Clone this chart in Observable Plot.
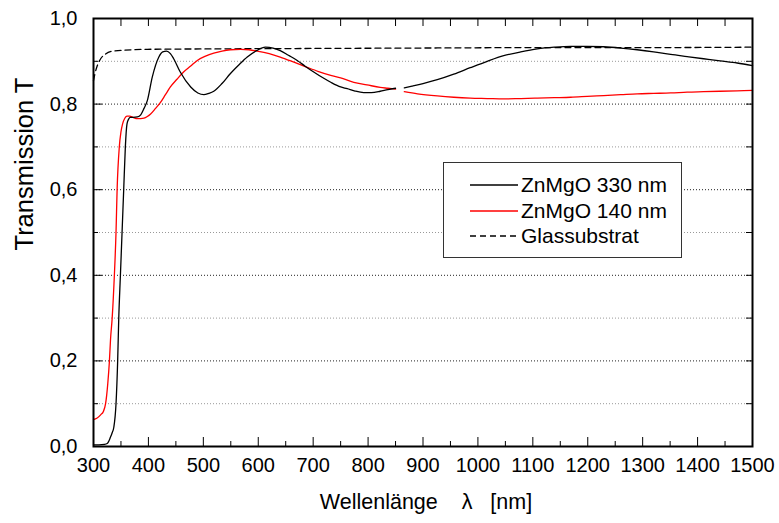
<!DOCTYPE html>
<html>
<head>
<meta charset="utf-8">
<script src="https://cdn.jsdelivr.net/npm/d3@7"></script>
<script src="https://cdn.jsdelivr.net/npm/@observablehq/plot@0.6"></script>
<style>
  html, body { margin: 0; padding: 0; background: #fff; }
  #wrap { position: relative; width: 779px; height: 523px; font-family: "Liberation Sans", Arial, sans-serif; }
  #legend { position: absolute; left: 443px; top: 162px; width: 239px; height: 96px; border: 1.5px solid #333; background: #fff; box-sizing: border-box; }
  .row { position: absolute; left: 0; height: 24px; display: flex; align-items: center; font-size: 21px; color: #000; white-space: nowrap; }
  .row svg { margin-left: 26px; margin-right: 3px; }
</style>
</head>
<body>
<div id="wrap"></div>
<script>
// Wavelengths (nm) and transmission values
const wl330 = [300,310,320,325,331,334,337,341,344,346,349,352,355,358,361,364,367,372,380,386,392,398,407,419,426,433,440,446,458,477,490,501,510,519,534,549,565,580,597,613,627,640,655,671,686,701,717,732,750,762,775,792,806,822,836,850,
               866,880,900,926,956,986,1017,1047,1078,1108,1139,1169,1199,1229,1260,1290,1320,1351,1381,1411,1441,1472,1500];
const t330  = [0.004,0.004,0.005,0.007,0.022,0.032,0.045,0.10,0.20,0.30,0.40,0.50,0.60,0.70,0.754,0.765,0.769,0.769,0.770,0.775,0.790,0.808,0.863,0.910,0.922,0.924,0.918,0.906,0.875,0.840,0.826,0.822,0.825,0.830,0.848,0.871,0.892,0.910,0.925,0.933,0.931,0.925,0.914,0.902,0.888,0.875,0.862,0.851,0.840,0.836,0.831,0.827,0.827,0.830,0.834,0.837,
               0.838,0.842,0.848,0.857,0.870,0.885,0.900,0.913,0.922,0.929,0.933,0.935,0.935,0.934,0.931,0.927,0.922,0.916,0.911,0.906,0.901,0.896,0.890];

const wl140 = [300,306,313,318,322,326,329,331,334,338,341,343,347,350,353,357,361,366,372,380,386,392,398,404,413,422,431,440,452,464,477,489,504,519,534,549,568,583,598,620,640,665,689,710,732,750,774,798,822,836,850,
               866,890,926,956,986,1017,1047,1078,1108,1139,1169,1199,1229,1260,1290,1320,1351,1381,1411,1441,1472,1500];
const t140  = [0.063,0.066,0.074,0.082,0.100,0.147,0.200,0.250,0.300,0.400,0.500,0.600,0.700,0.735,0.754,0.767,0.772,0.772,0.769,0.766,0.766,0.767,0.771,0.777,0.790,0.804,0.822,0.840,0.858,0.875,0.889,0.902,0.912,0.919,0.924,0.927,0.928,0.927,0.924,0.918,0.910,0.898,0.886,0.876,0.867,0.861,0.851,0.845,0.839,0.837,0.835,
               0.829,0.824,0.819,0.816,0.814,0.813,0.812,0.813,0.814,0.815,0.816,0.818,0.820,0.822,0.824,0.825,0.826,0.828,0.829,0.830,0.831,0.832];

const wlGlass = [300,303,307,313,322,337,398,520,700,900,1100,1300,1500];
const tGlass  = [0.855,0.873,0.890,0.906,0.917,0.924,0.928,0.929,0.930,0.931,0.932,0.932,0.933];

const detectorSwitch = 858; // measurement gap between the two detectors
const seriesNames = ["ZnMgO 330 nm", "ZnMgO 140 nm", "Glassubstrat"];
const xTitle = "Wellenlänge\u00A0\u00A0\u00A0\u00A0λ\u00A0\u00A0\u00A0[nm]";
const yTitle = "Transmission T";

const xMajor = d3.range(300, 1501, 100);
const xMinor = d3.range(350, 1500, 100);
const xAll = d3.range(300, 1501, 50);
const yMajor = [0, 0.2, 0.4, 0.6, 0.8, 1.0];
const yMinor = [0.1, 0.3, 0.5, 0.7, 0.9];
const yAll = d3.range(0, 11).map(i => i / 10);

const mk = (wl, t) => wl.map((w, i) => ({wl: w, t: t[i], seg: w < detectorSwitch ? 0 : 1}));
const d330 = mk(wl330, t330);
const d140 = mk(wl140, t140);
const dGlass = mk(wlGlass, tGlass);

const fmt = d => d.toFixed(1).replace(".", ",");

const chart = Plot.plot({
  width: 779,
  height: 523,
  marginLeft: 93,
  marginRight: 27,
  marginTop: 18,
  marginBottom: 77,
  style: {fontFamily: "'Liberation Sans', Arial, sans-serif", fontSize: "20px", background: "#fff", color: "#000", overflow: "visible"},
  x: {domain: [300, 1500]},
  y: {domain: [0, 1]},
  marks: [
    Plot.gridY(yMinor, {stroke: "#999", strokeOpacity: 1, strokeDasharray: "1,2"}),
    Plot.gridY([0.2, 0.4, 0.6, 0.8], {stroke: "#222", strokeOpacity: 1, strokeDasharray: "1,2"}),
    Plot.line(dGlass, {x: "wl", y: "t", stroke: "#000", strokeWidth: 1.3, strokeDasharray: "6,4", curve: "monotone-x"}),
    Plot.line(d140, {x: "wl", y: "t", z: "seg", stroke: "#ff0000", strokeWidth: 1.3, curve: "monotone-x"}),
    Plot.line(d330, {x: "wl", y: "t", z: "seg", stroke: "#000", strokeWidth: 1.3, curve: "monotone-x"}),
    Plot.frame({stroke: "#000", strokeWidth: 2}),
    Plot.axisX(xMajor, {anchor: "bottom", tickSize: 0, tickPadding: 11, fontSize: 20, tickFormat: d => String(d), label: null}),
    Plot.axisX(xMajor, {anchor: "bottom", tickSize: -9, text: null, label: null}),
    Plot.axisX(xMinor, {anchor: "bottom", tickSize: -5, text: null, label: null}),
    Plot.axisX(xAll, {anchor: "top", tickSize: -7, text: null, label: null}),
    Plot.axisY(yMajor, {anchor: "left", tickSize: 0, tickPadding: 16, tickFormat: fmt, fontSize: 20, label: null}),
    Plot.axisY(yMajor, {anchor: "left", tickSize: -9, text: null, label: null}),
    Plot.axisY(yMinor, {anchor: "left", tickSize: -5, text: null, label: null}),
    Plot.axisY(yAll, {anchor: "right", tickSize: -7, text: null, label: null}),
    Plot.text([xTitle], {text: d => d, frameAnchor: "bottom", lineAnchor: "bottom", dy: 62, dx: 3, fontSize: 21.5}),
    Plot.text([yTitle], {text: d => d, frameAnchor: "left", lineAnchor: "bottom", rotate: -90, dx: -61, dy: 18, fontSize: 25.5})
  ]
});

const wrap = document.getElementById("wrap");
wrap.appendChild(chart);

// Legend overlay
const legend = document.createElement("div");
legend.id = "legend";
const styles = [
  {stroke: "#000", dash: null},
  {stroke: "#ff0000", dash: null},
  {stroke: "#000", dash: "6,4"}
];
seriesNames.forEach((name, i) => {
  const row = document.createElement("div");
  row.className = "row";
  row.style.top = (10 + i * 25.5) + "px";
  const s = styles[i];
  row.innerHTML = `<svg width="48" height="10"><line x1="0" x2="48" y1="5" y2="5" stroke="${s.stroke}" stroke-width="1.3" ${s.dash ? `stroke-dasharray="${s.dash}"` : ""}/></svg><span>${name}</span>`;
  legend.appendChild(row);
});
wrap.appendChild(legend);
</script>
</body>
</html>
